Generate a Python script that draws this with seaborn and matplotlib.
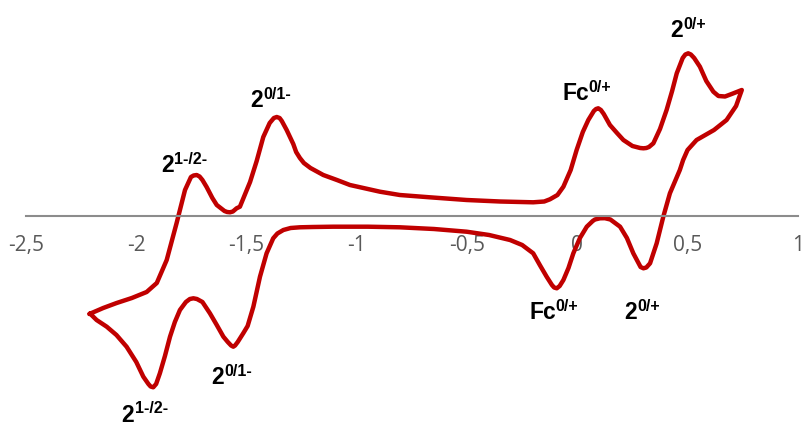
import matplotlib
matplotlib.use('Agg')
import matplotlib.pyplot as plt
import seaborn as sns
import pandas as pd

sns.set_style('white')
plt.rcParams['font.family'] = ['Open Sans', 'DejaVu Sans']

# --- data (potential in V, current in arbitrary units) ---
# forward (anodic) scan, from the left vertex to the right vertex
E_fwd = [-2.213, -2.15, -2.089, -2.02, -1.953, -1.907, -1.862, -1.817, -1.779, -1.752,
         -1.74, -1.726, -1.713, -1.70, -1.681, -1.655, -1.635, -1.60, -1.588, -1.575,
         -1.562, -1.545, -1.530, -1.484, -1.454, -1.424, -1.395, -1.376, -1.363, -1.35,
         -1.340, -1.318, -1.288, -1.275, -1.258, -1.24, -1.21, -1.152, -1.09, -1.031,
         -0.96, -0.895, -0.805, -0.669, -0.502, -0.35, -0.2, -0.15, -0.124, -0.09,
         -0.063, -0.03, -0.003, 0.025, 0.05, 0.075, 0.085, 0.095, 0.107, 0.12,
         0.148, 0.18, 0.209, 0.25, 0.285, 0.3, 0.313, 0.325, 0.345, 0.375,
         0.405, 0.43, 0.451, 0.478, 0.49, 0.503, 0.515, 0.53, 0.556, 0.585,
         0.617, 0.640, 0.67, 0.70, 0.746]
I_fwd = [-9.8, -9.2, -8.7, -8.2, -7.6, -6.7, -4.4, -0.7, 2.6, 3.9,
         4.05, 4.1, 3.95, 3.6, 2.9, 1.8, 1.1, 0.5, 0.4, 0.37,
         0.45, 0.77, 0.93, 3.4, 5.5, 7.9, 9.3, 9.8, 9.9, 9.8,
         9.5, 8.6, 7.2, 6.4, 5.8, 5.3, 4.8, 4.1, 3.6, 3.1,
         2.75, 2.43, 2.1, 1.87, 1.6, 1.45, 1.37, 1.45, 1.67, 2.1,
         2.93, 4.6, 6.6, 8.4, 9.6, 10.5, 10.7, 10.77, 10.6, 10.2,
         9.1, 8.3, 7.6, 7.0, 6.8, 6.77, 6.8, 6.9, 7.27, 8.7,
         10.6, 12.5, 14.27, 15.8, 16.15, 16.27, 16.15, 15.8, 14.93, 13.5,
         12.43, 12.0, 11.95, 12.2, 12.6]

# reverse (cathodic) scan, back to the left vertex
E_rev = [0.72, 0.677, 0.62, 0.541, 0.50, 0.48, 0.465, 0.420, 0.390, 0.36,
         0.33, 0.313, 0.3, 0.287, 0.275, 0.254, 0.225, 0.194, 0.15, 0.125,
         0.103, 0.08, 0.07, 0.043, 0.012, -0.018, -0.04, -0.063, -0.08, -0.093,
         -0.105, -0.115, -0.139, -0.17, -0.2, -0.25, -0.305, -0.40, -0.502, -0.65,
         -0.805, -0.95, -1.107, -1.2, -1.258, -1.30, -1.333, -1.36, -1.379, -1.409,
         -1.439, -1.469, -1.495, -1.515, -1.540, -1.552, -1.560, -1.57, -1.585, -1.605,
         -1.635, -1.666, -1.70, -1.725, -1.741, -1.757, -1.775, -1.802, -1.825, -1.847,
         -1.87, -1.893, -1.910, -1.923, -1.935, -1.945, -1.968, -2.0, -2.044, -2.09,
         -2.134, -2.18, -2.21]
I_rev = [11.0, 9.6, 8.6, 7.6, 6.6, 5.6, 4.6, 2.27, -0.07, -2.73,
         -4.73, -5.15, -5.23, -5.1, -4.6, -3.73, -2.2, -1.07, -0.35, -0.22,
         -0.23, -0.35, -0.5, -1.07, -2.2, -3.73, -5.2, -6.4, -7.0, -7.23,
         -7.15, -6.9, -6.07, -4.9, -3.73, -2.9, -2.4, -1.9, -1.57, -1.3,
         -1.13, -1.07, -1.07, -1.1, -1.13, -1.2, -1.4, -1.75, -2.23, -3.73,
         -6.07, -9.07, -11.0, -11.73, -12.6, -12.95, -13.07, -12.95, -12.6, -12.07,
         -10.9, -9.73, -8.6, -8.3, -8.23, -8.3, -8.6, -9.4, -10.6, -12.07,
         -14.0, -15.73, -16.8, -17.13, -17.05, -16.8, -16.07, -14.6, -13.07, -11.9,
         -11.07, -10.4, -9.75]

tick_values = [-2.5, -2, -1.5, -1, -0.5, 0, 0.5, 1]
tick_labels = ['-2,5', '-2', '-1,5', '-1', '-0,5', '0', '0,5', '1']

# peak labels: base text, superscript, anchor (left, baseline)
label_base = ['2', '2', 'Fc', '2', 'Fc', '2', '2', '2']
label_sup = ['1-/2-', '0/1-', '0/+', '0/+', '0/+', '0/+', '0/1-', '1-/2-']
label_x = [-1.889, -1.481, -0.066, 0.4236, -0.2145, 0.213, -1.661, -2.066]
label_y = [4.43, 10.9, 11.6, 17.87, -10.33, -10.33, -16.8, -20.55]

df = pd.DataFrame({'E': E_fwd + E_rev, 'I': I_fwd + I_rev})

fig = plt.figure(figsize=(8.01, 4.23), dpi=100)
ax = fig.add_axes([0, 0, 1, 1])

sns.lineplot(data=df, x='E', y='I', sort=False, estimator=None,
             color='#C00000', linewidth=3.2, ax=ax)
for line in ax.get_lines():
    line.set_solid_joinstyle('round')
    line.set_solid_capstyle('round')

ax.set_xlim(-2.618, 1.0145)
ax.set_ylim(-20.7, 21.6)

# x axis through zero, only between -2,5 and 1
for s in ['top', 'left', 'right']:
    ax.spines[s].set_visible(False)
ax.spines['bottom'].set_position(('data', 0))
ax.spines['bottom'].set_bounds(-2.5, 1)
ax.spines['bottom'].set_color('#8c8c8c')
ax.spines['bottom'].set_linewidth(1.5)
ax.set_xticks(tick_values)
ax.set_xticklabels(tick_labels)
ax.tick_params(axis='x', direction='out', length=5, width=1.5, color='#8c8c8c',
               pad=9, labelsize=15, labelcolor='#595959')
ax.set_yticks([])
ax.set_xlabel('')
ax.set_ylabel('')

for b, s, x, y in zip(label_base, label_sup, label_x, label_y):
    t = ax.text(x, y, b, ha='left', va='baseline', fontsize=16.5,
                fontweight='bold', family='Liberation Sans', color='black')
    dx = -0.8 if b == 'Fc' else 0.3
    ax.annotate(s, xy=(1, 1), xycoords=t, xytext=(dx, 1.5), textcoords='offset points',
                ha='left', va='top', fontsize=11.5, fontweight='bold',
                family='Liberation Sans', color='black')

plt.savefig('out.png', dpi=100)
